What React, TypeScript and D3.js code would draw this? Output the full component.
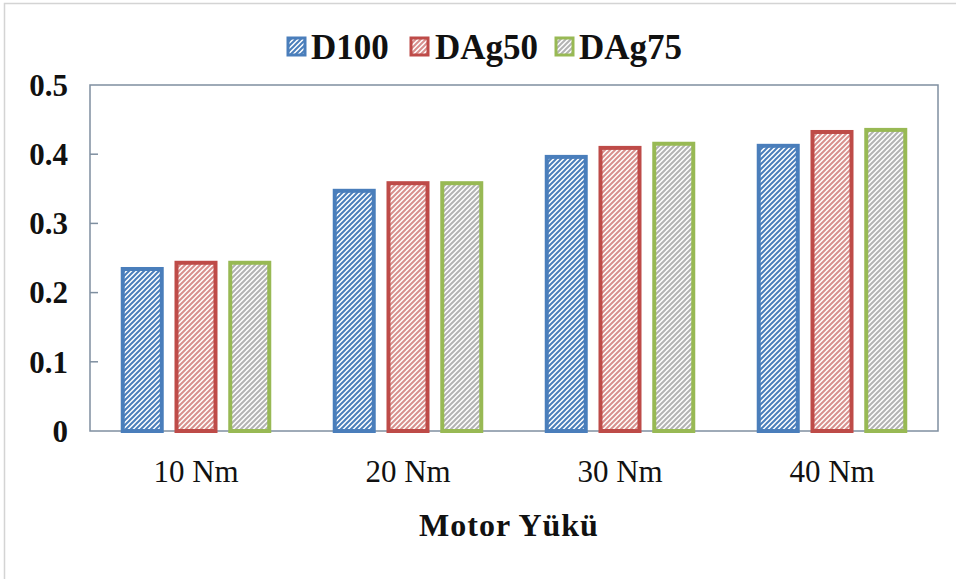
import React from "react";
import * as d3 from "d3";

const categories = ["10 Nm", "20 Nm", "30 Nm", "40 Nm"];
const seriesNames = ["D100", "DAg50", "DAg75"];
const D100 = [0.237, 0.35, 0.399, 0.415];
const DAg50 = [0.246, 0.361, 0.412, 0.435];
const DAg75 = [0.246, 0.361, 0.418, 0.438];
const yTicks = [0, 0.1, 0.2, 0.3, 0.4, 0.5];
const yTickLabels = ["0", "0.1", "0.2", "0.3", "0.4", "0.5"];
const xTitle = "Motor Yükü";

const seriesValues = [D100, DAg50, DAg75];
const strokeColors = ["#4a7ebb", "#be4b48", "#98b954"];
const hatchColors = ["#4a7ebb", "#d88f8d", "#b3b3b3"];

export default function App() {
  const W = 956, H = 579;
  const m = { left: 90, right: 938, top: 85, bottom: 431 };
  const x = d3.scaleBand<string>().domain(categories).range([m.left, m.right]).paddingInner(0.29).paddingOuter(0.145);
  const xs = d3.scaleBand<string>().domain(seriesNames).range([0, x.bandwidth()]).paddingInner(0.2);
  const y = d3.scaleLinear().domain([0, 0.5]).range([m.bottom, m.top]);
  const serif = "'Liberation Serif', 'Times New Roman', serif";

  const legendItems = [
    { sx: 287, tx: 311 },
    { sx: 410, tx: 435 },
    { sx: 555, tx: 579 },
  ];

  return (
    <svg width={W} height={H} style={{ position: "absolute", left: 0, top: 0, background: "#fff" }}>
      <defs>
        {hatchColors.map((c, i) => (
          <pattern key={i} id={`hatch${i}`} patternUnits="userSpaceOnUse" width={5} height={5}>
            <rect width={5} height={5} fill="#fff" />
            <path d="M-1,1 l2,-2 M0,5 l5,-5 M4,6 l2,-2" stroke={c} strokeWidth={2} />
          </pattern>
        ))}
      </defs>
      <rect x={4.5} y={3.5} width={W + 10} height={H + 10} fill="#fff" stroke="#d4d4d4" strokeWidth={1.5} />
      <rect x={m.left} y={m.top} width={m.right - m.left} height={m.bottom - m.top} fill="#fff" stroke="#7f8fa0" strokeWidth={1.5} />
      {yTicks.map((t, i) => (
        <g key={i}>
          {i > 0 && i < yTicks.length - 1 && (
            <line x1={m.left} x2={m.left + 8} y1={y(t)} y2={y(t)} stroke="#7f8fa0" strokeWidth={1.5} />
          )}
          <text x={68} y={y(t)} dy="0.35em" textAnchor="end" fontFamily={serif} fontWeight="bold" fontSize={31} fill="#111">
            {yTickLabels[i]}
          </text>
        </g>
      ))}
      {categories.map((c, ci) => (
        <g key={c}>
          {seriesNames.map((s, si) => {
            const v = seriesValues[si][ci];
            const bx = (x(c) as number) + (xs(s) as number);
            return (
              <rect key={s} x={bx + 2} y={y(v) + 2} width={xs.bandwidth() - 4} height={y(0) - y(v) - 2}
                fill={`url(#hatch${si})`} stroke={strokeColors[si]} strokeWidth={4} />
            );
          })}
          <text x={(x(c) as number) + x.bandwidth() / 2} y={471} dy="0.35em" textAnchor="middle" fontFamily={serif} fontSize={31} fill="#111">
            {c}
          </text>
        </g>
      ))}
      <text x={509} y={525} dy="0.35em" textAnchor="middle" fontFamily={serif} fontWeight="bold" fontSize={32} fill="#111" letterSpacing={1}>
        {xTitle}
      </text>
      {seriesNames.map((s, i) => (
        <g key={s}>
          <rect x={legendItems[i].sx + 1} y={38} width={17} height={17} fill={`url(#hatch${i})`} stroke={strokeColors[i]} strokeWidth={3} />
          <text x={legendItems[i].tx} y={47} dy="0.35em" fontFamily={serif} fontWeight="bold" fontSize={35} fill="#111">
            {s}
          </text>
        </g>
      ))}
    </svg>
  );
}
